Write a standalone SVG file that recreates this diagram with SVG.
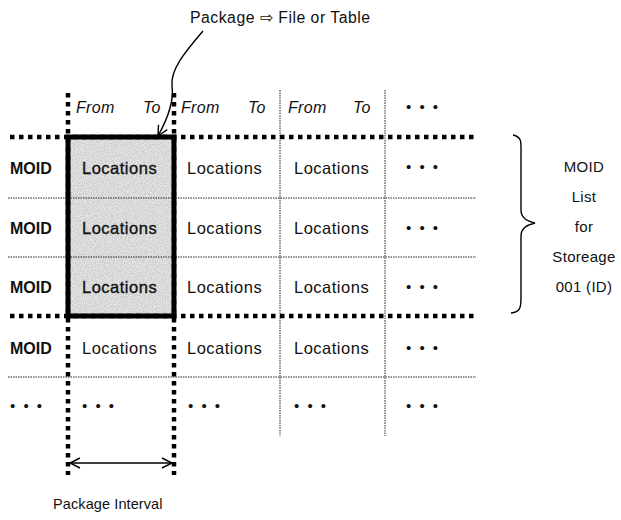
<svg xmlns="http://www.w3.org/2000/svg" width="621" height="520" viewBox="0 0 621 520">
  <style>
    text { font-family: "Liberation Sans", Arial, sans-serif; font-size: 16.5px; fill: #111; letter-spacing: 0.5px; }
    .hdr { font-style: italic; font-size: 16px; letter-spacing: 0.3px; }
    .moid { font-weight: bold; font-size: 16px; letter-spacing: 0; }
    .loc-pkg { stroke: #111; stroke-width: 0.35; }
    .side { text-anchor: middle; font-size: 15px; letter-spacing: 0.3px; }
    .title { font-size: 15.8px; }
    .interval { font-size: 14.5px; letter-spacing: 0.1px; }
    .thick { stroke: #000; stroke-width: 4.5; stroke-dasharray: 4.5 4.5; fill: none; }
    .thin { stroke: #222; stroke-width: 1; stroke-dasharray: 1.5 1; fill: none; }
    .line { stroke: #000; stroke-width: 1.4; fill: none; }
    .dots { font-size: 15px; letter-spacing: 2px; }
  </style>
  <defs>
    <marker id="open" viewBox="0 0 12 12" refX="11" refY="6" markerWidth="12" markerHeight="12" markerUnits="userSpaceOnUse" orient="auto-start-reverse">
      <path d="M1,1 L11,6 L1,11" fill="none" stroke="#000" stroke-width="1.4"/>
    </marker>
    <filter id="grain" x="0" y="0" width="100%" height="100%">
      <feTurbulence type="fractalNoise" baseFrequency="0.9" numOctaves="2" seed="3" result="n"/>
      <feColorMatrix in="n" type="matrix" values="0 0 0 0 0.5  0 0 0 0 0.5  0 0 0 0 0.5  0 0 0 1.8 -0.6" result="g"/>
      <feComposite in="g" in2="SourceGraphic" operator="in" result="gi"/>
      <feMerge><feMergeNode in="SourceGraphic"/><feMergeNode in="gi"/></feMerge>
    </filter>
  </defs>

  <!-- highlighted package column -->
  <g id="package">
    <rect x="68" y="137" width="106" height="179" fill="#e6e6e6" filter="url(#grain)"/>
  </g>

  <!-- grid lines -->
  <g id="grid">
    <line class="thin" x1="8" y1="198" x2="476" y2="198"/>
    <line class="thin" x1="8" y1="257" x2="476" y2="257"/>
    <line class="thin" x1="8" y1="377" x2="476" y2="377"/>
    <line class="thin" x1="280" y1="90" x2="280" y2="436"/>
    <line class="thin" x1="385" y1="90" x2="385" y2="436"/>
    <line class="thick" x1="10" y1="137" x2="478" y2="137"/>
    <line class="thick" x1="10" y1="316" x2="478" y2="316"/>
    <line class="thick" x1="68" y1="93" x2="68" y2="475"/>
    <line class="thick" x1="174" y1="93" x2="174" y2="475"/>
    <rect x="68" y="137" width="106" height="179" fill="none" stroke="#000" stroke-width="5"/>
  </g>

  <!-- column headers -->
  <g id="headers">
    <text class="hdr" x="76" y="113">From</text>
    <text class="hdr" x="143" y="113">To</text>
    <text class="hdr" x="181" y="113">From</text>
    <text class="hdr" x="248" y="113">To</text>
    <text class="hdr" x="288" y="113">From</text>
    <text class="hdr" x="353" y="113">To</text>
    <text class="dots" x="406" y="112">• • •</text>
  </g>

  <!-- rows -->
  <g id="row1">
    <text class="moid" x="10" y="174">MOID</text>
    <text class="loc-pkg" x="82" y="174">Locations</text>
    <text x="187" y="174">Locations</text>
    <text x="294" y="174">Locations</text>
    <text class="dots" x="406" y="172">• • •</text>
  </g>
  <g id="row2">
    <text class="moid" x="10" y="234">MOID</text>
    <text class="loc-pkg" x="82" y="234">Locations</text>
    <text x="187" y="234">Locations</text>
    <text x="294" y="234">Locations</text>
    <text class="dots" x="406" y="233">• • •</text>
  </g>
  <g id="row3">
    <text class="moid" x="10" y="293">MOID</text>
    <text class="loc-pkg" x="82" y="293">Locations</text>
    <text x="187" y="293">Locations</text>
    <text x="294" y="293">Locations</text>
    <text class="dots" x="406" y="292">• • •</text>
  </g>
  <g id="row4">
    <text class="moid" x="10" y="354">MOID</text>
    <text x="82" y="354">Locations</text>
    <text x="187" y="354">Locations</text>
    <text x="294" y="354">Locations</text>
    <text class="dots" x="406" y="353">• • •</text>
  </g>
  <g id="row5">
    <text class="dots" x="10" y="411">• • •</text>
    <text class="dots" x="82" y="411">• • •</text>
    <text class="dots" x="188" y="411">• • •</text>
    <text class="dots" x="294" y="411">• • •</text>
    <text class="dots" x="406" y="411">• • •</text>
  </g>

  <!-- labels -->
  <g id="package-label">
    <text class="title" x="190" y="23">Package ⇨ File or Table</text>
  </g>
  <g id="storage-label">
    <text class="side" x="584" y="172">MOID</text>
    <text class="side" x="584" y="202">List</text>
    <text class="side" x="584" y="232">for</text>
    <text class="side" x="584" y="262">Storeage</text>
    <text class="side" x="584" y="292">001 (ID)</text>
  </g>
  <g id="interval-label">
    <text class="interval" x="53" y="509">Package Interval</text>
  </g>

  <!-- connectors -->
  <g id="connectors">
    <path class="line" d="M203,31 C185,52 170,70 172,86 C174,100 168,118 158,136" marker-end="url(#open)"/>
    <line class="line" x1="70" y1="463" x2="172" y2="463" marker-start="url(#open)" marker-end="url(#open)"/>
    <path class="line" d="M513,135 C522,137 521,142 521,152 L521,210 C521,218 527,221 535,223 C527,225 521,228 521,236 L521,298 C521,308 520,312 511,313"/>
  </g>
</svg>
